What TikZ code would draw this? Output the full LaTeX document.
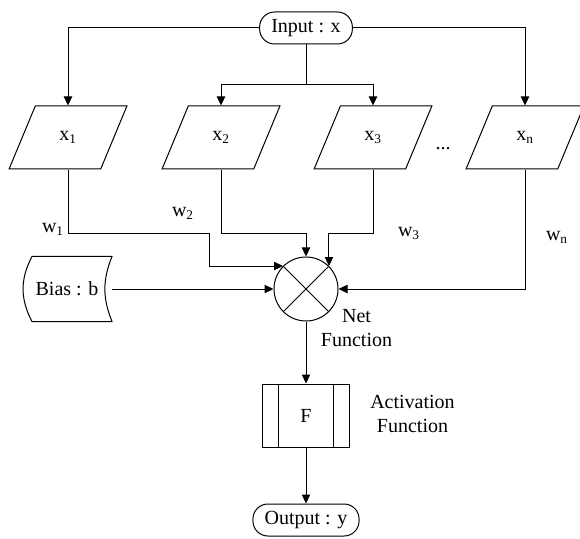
\documentclass[tikz,border=0pt]{standalone}
\usepackage{fontspec}
\setmainfont{Liberation Serif}
\usetikzlibrary{shapes.geometric, arrows.meta, positioning}
\tikzstyle{terminal} = [rectangle, rounded corners=9pt, minimum height=19.2pt, inner xsep=7pt, text centered, draw=black]
\tikzstyle{inputbox} = [trapezium, trapezium left angle=63.8, trapezium right angle=116.2, trapezium stretches=true, minimum width=70.8pt, minimum height=37.8pt, text centered, draw=black]
\tikzstyle{sumnode} = [circle, minimum size=38.4pt, inner sep=0pt, draw=black]
\tikzstyle{process} = [rectangle, minimum width=52.2pt, minimum height=37.8pt, text centered, draw=black]
\tikzstyle{storage} = [rectangle, minimum width=53.4pt, minimum height=38.4pt, text centered]
\tikzstyle{arrow} = [-{Triangle[length=5.4pt,width=5pt]}]

\begin{document}
\begin{tikzpicture}[node distance=2cm, on grid, line width=0.6pt, font=\rmfamily\fontsize{12}{14}\selectfont]

\useasboundingbox (0,0) rectangle (348pt,-323.4pt);

% Nodes
\node (input) [terminal] at (183.6pt,-16.8pt) {Input : x};
\coordinate [below=34.2pt of input] (split);

\node (x2) [inputbox, below left=65.7pt and 51pt of input] {x\textsubscript{2}};
\node (x3) [inputbox, below right=65.7pt and 40.2pt of input] {x\textsubscript{3}};
\node (x1) [inputbox, left=91.8pt of x2] {x\textsubscript{1}};
\node (xn) [inputbox, right=91.2pt of x3] {x\textsubscript{n}};
\node (dots) [right=42pt of x3, yshift=-6.5pt] {...};

\coordinate [below=57.9pt of x2] (wrow);
\node (w1) [below left=54.9pt and 9pt of x1] {w\textsubscript{1}};
\node (w2) [below left=45.3pt and 22.8pt of x2] {w\textsubscript{2}};
\node (w3) [below right=57.3pt and 21.6pt of x3] {w\textsubscript{3}};
\node (wn) [below right=59.7pt and 19.2pt of xn] {w\textsubscript{n}};

\node (circ) [sumnode, below=156.6pt of input] {};
\node (net) [below right=23.4pt and 30.3pt of circ, align=center] {Net\\Function};
\node (bias) [storage, left=143.4pt of circ] {Bias : b};

\node (act) [process, below=75.9pt of circ] {F};
\node (actlabel) [right=63.9pt of act, yshift=1pt, align=center] {Activation\\Function};
\node (output) [terminal, below=62.7pt of act] {Output : y};

% Shapes
\draw (circ.45) -- (circ.225) (circ.135) -- (circ.315);
\draw ([xshift=10pt]act.north west) -- ([xshift=10pt]act.south west);
\draw ([xshift=-10pt]act.north east) -- ([xshift=-10pt]act.south east);
\draw ([xshift=6pt]bias.north west) -- (bias.north east)
  to[bend right=22] (bias.south east)
  -- ([xshift=6pt]bias.south west)
  to[bend left=28] cycle;

% Arrows
\draw [arrow] (input.west) -| (x1);
\draw [arrow] (input.east) -| (xn);
\draw (input.south) -- (split);
\draw [arrow] (split) -| (x2);
\draw [arrow] (split) -| (x3);

\draw [arrow] (x1) |- ([xshift=-44pt]circ.135 |- wrow) |- (circ.135);
\draw [arrow] (x2) |- (circ.north |- wrow) -- (circ.north);
\draw [arrow] (x3) |- (circ.45 |- wrow) -- (circ.45);
\draw [arrow] (xn) |- (circ.east);
\draw [arrow] (bias.east) -- (circ.west);

\draw [arrow] (circ) -- (act);
\draw [arrow] (act) -- (output);

\end{tikzpicture}
\end{document}
